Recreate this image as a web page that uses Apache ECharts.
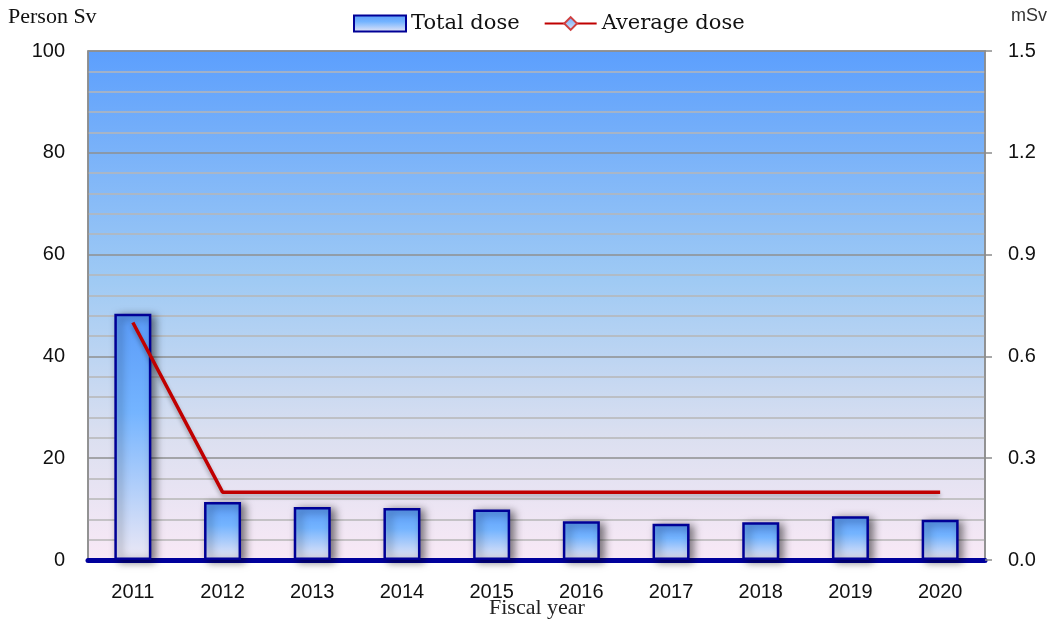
<!DOCTYPE html>
<html><head><meta charset="utf-8">
<script src="https://cdn.jsdelivr.net/npm/echarts@6/dist/echarts.min.js"></script>
<style>html,body{margin:0;padding:0;background:#fff}#c{width:1055px;height:623px}</style>
</head><body><div id="c"></div>
<script>
const years = ['2011','2012','2013','2014','2015','2016','2017','2018','2019','2020'];
const totalDose = [48.4, 11.4, 10.4, 10.2, 9.9, 7.6, 7.1, 7.4, 8.6, 7.9];
const averageDose = [0.7, 0.2, 0.2, 0.2, 0.2, 0.2, 0.2, 0.2, 0.2, 0.2];
const leftTicks = {min: 0, max: 100, interval: 20};
const rightTicks = {min: 0, max: 1.5, interval: 0.3};

const chart = echarts.init(document.getElementById('c'));
const G = echarts.graphic.LinearGradient;
const barGrad = new G(0,0,0,1,[
  {offset:0, color:'#5a9bf8'},
  {offset:0.4, color:'#74b4ff'},
  {offset:1, color:'#ece8f5'}
]);
const bgGrad = new G(0,0,0,1,[
  {offset:0, color:'#5c9ffd'},
  {offset:0.45, color:'#9fcaf4'},
  {offset:0.75, color:'#dadff0'},
  {offset:1, color:'#f9e9f6'}
]);
chart.setOption({
  animation:false,
  textStyle:{fontFamily:'Liberation Sans'},
  legend:{
    left:348, top:8, itemGap:24, itemWidth:52, itemHeight:16,
    textStyle:{fontFamily:'DejaVu Serif', fontSize:21, color:'#111'},
    data:[{name:'Total dose', icon:'rect'},{name:'Average dose'}]
  },
  grid:{left:88, right:70, top:51, bottom:63, show:true,
    backgroundColor:bgGrad, borderColor:'#8c8c8c', borderWidth:1.5},
  xAxis:{type:'category', data:years,
    axisLine:{lineStyle:{color:'#00009c', width:5}},
    axisTick:{show:false},
    axisLabel:{fontSize:20, color:'#111', margin:22}},
  yAxis:[{
    type:'value', min:leftTicks.min, max:leftTicks.max, interval:leftTicks.interval,
    axisLine:{show:true, lineStyle:{color:'#8c8c8c', width:1.5}},
    axisTick:{show:false},
    axisLabel:{fontSize:20, color:'#111', margin:23},
    splitLine:{lineStyle:{color:'#8f8f8f', width:1.5}},
    minorTick:{show:false, splitNumber:5},
    minorSplitLine:{show:true, lineStyle:{color:'#b6b6b6', width:1.5}}
  },{
    type:'value', min:rightTicks.min, max:rightTicks.max, interval:rightTicks.interval,
    axisLine:{show:true, lineStyle:{color:'#8c8c8c', width:1.5}},
    axisTick:{show:true, length:7, lineStyle:{color:'#8c8c8c', width:1.5}},
    axisLabel:{fontSize:20, color:'#111', margin:23, formatter:v=>v.toFixed(1)},
    splitLine:{show:false}
  }],
  series:[{
    name:'Total dose', type:'bar', data:totalDose, barWidth:37,
    itemStyle:{color:barGrad, borderColor:'#000096', borderWidth:2.5,
      shadowBlur:8, shadowColor:'rgba(0,0,0,0.5)', shadowOffsetX:4, shadowOffsetY:2}
  },{
    name:'Average dose', type:'line', yAxisIndex:1, data:averageDose,
    symbol:'diamond', symbolSize:13, showSymbol:false,
    lineStyle:{color:'#c00000', width:3.5, shadowBlur:4, shadowColor:'rgba(0,0,0,0.3)', shadowOffsetY:3},
    itemStyle:{color:new G(0,0,0,1,[{offset:0,color:'#6aa8f8'},{offset:1,color:'#dde6f8'}]), borderColor:'#d04040', borderWidth:1}
  }],
  graphic:[
    {type:'text', left:8, top:6, style:{text:'Person Sv', font:'22px "Liberation Serif"', fill:'#111'}},
    {type:'text', left:1011, top:7, style:{text:'mSv', font:'18px "Liberation Sans"', fill:'#333'}},
    {type:'text', left:489, top:597, style:{text:'Fiscal year', font:'22px "Liberation Serif"', fill:'#222'}}
  ]
});
</script></body></html>
